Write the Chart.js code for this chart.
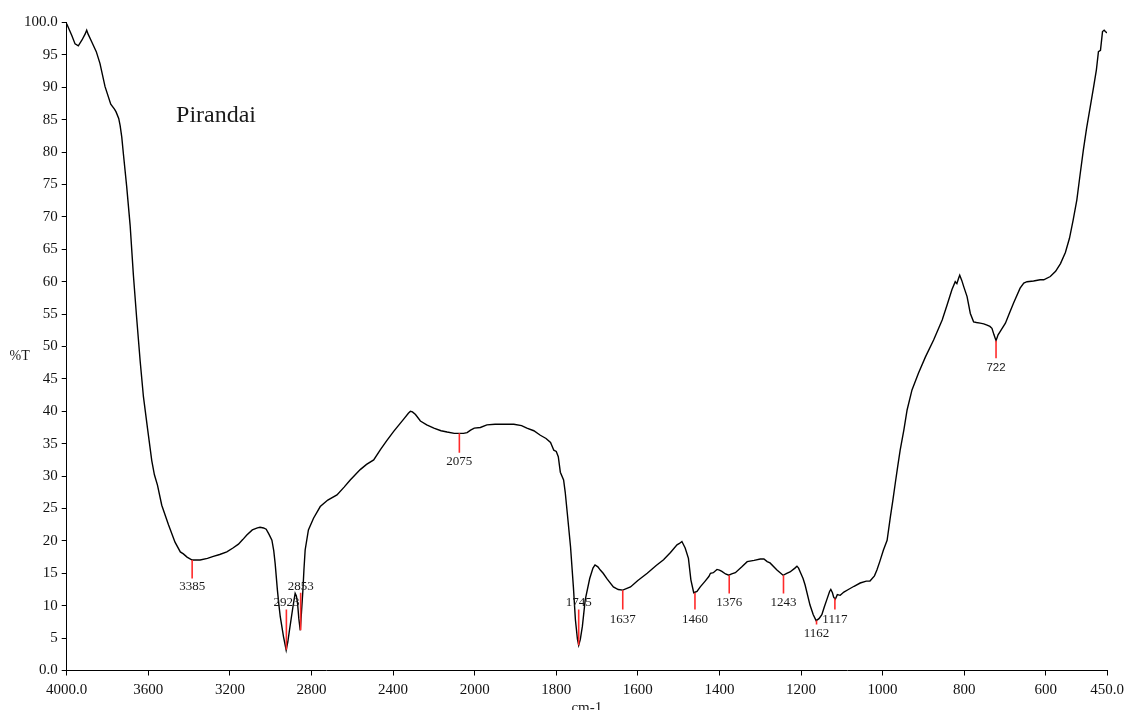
<!DOCTYPE html>
<html>
<head>
<meta charset="utf-8">
<script src="https://cdn.jsdelivr.net/npm/chart.js@4/dist/chart.umd.min.js"></script>
<style>
html,body{margin:0;padding:0;background:#fff;}
#wrap{width:1126px;height:710px;position:relative;}
</style>
</head>
<body>
<div id="wrap"><canvas id="c"></canvas></div>
<script>
// ---- Data ----
const wavenumbers = [
4000,3975,3959,3943,3925,3910,3902,3895,3877,3855,3837,3812,3784,3765,3758,3745,3738,3730,3722,3706,
3689,3673,3657,3640,3624,3604,3583,3570,3555,3534,3501,3469,3443,3428,3410,3385,3346,3310,3281,3250,
3215,3185,3158,3137,3117,3090,3065,3052,3035,3022,3008,2994,2985,2978,2967,2960,2953,2937,2924,2916,
2908,2891,2880,2874,2868,2862,2855,2849,2842,2837,2831,2815,2790,2757,2720,2675,2640,2610,2561,2530,
2495,2462,2430,2397,2348,2325,2315,2305,2290,2266,2235,2200,2165,2135,2100,2078,2055,2037,2020,2002,
1986,1970,1950,1929,1904,1885,1872,1855,1839,1825,1814,1806,1800,1795,1790,1782,1778,1773,1765,1758,
1753,1748,1745,1741,1736,1729,1718,1710,1705,1698,1692,1685,1675,1660,1648,1637,1618,1600,1577,1555,
1537,1520,1504,1498,1492,1484,1476,1470,1463,1455,1447,1435,1426,1422,1415,1406,1400,1394,1385,1377,
1370,1361,1345,1332,1315,1300,1291,1283,1276,1259,1244,1235,1227,1215,1210,1206,1202,1195,1190,1178,
1170,1163,1156,1149,1143,1137,1130,1127,1123,1120,1116,1111,1104,1095,1084,1070,1055,1040,1031,1020,
1014,1007,998,989,981,975,969,963,957,948,940,928,912,895,875,854,842,830,822,818,
814,811,806,801,793,785,777,770,761,752,744,737,732,727,722,717,712,699,690,679,
663,654,646,630,614,605,589,576,564,552,542,533,524,516,508,500,491,483,476,471,
466,461,457,454,450
];
const transmittance = [
99.8,98.0,96.7,96.4,97.3,98.2,98.8,98.2,97.0,95.5,93.7,90.1,87.4,86.6,86.2,85.2,84.1,82.3,79.7,74.7,
68.7,61.0,54.4,47.8,42.3,37.4,32.4,30.2,28.6,25.5,22.5,19.8,18.3,18.0,17.5,17.05,17.05,17.3,17.6,17.9,
18.3,18.9,19.5,20.2,20.9,21.7,22.0,22.1,22.0,21.8,21.0,20.1,18.5,16.5,12.4,10.2,8.3,5.2,3.15,4.4,
6.2,9.8,11.9,11.5,10.3,8.0,6.2,9.0,12.4,15.5,18.6,21.7,23.5,25.3,26.3,27.1,28.3,29.4,31.0,31.8,
32.5,34.1,35.5,36.9,38.8,39.7,40.0,39.9,39.5,38.5,37.9,37.4,37.0,36.8,36.6,36.6,36.6,36.7,37.1,37.4,
37.5,37.9,38.0,38.0,38.0,37.8,37.4,37.0,36.3,35.8,35.2,34.0,33.8,33.0,30.6,29.4,27.5,24.3,19.1,12.9,
7.8,4.8,3.9,4.8,6.8,10.9,14.2,15.8,16.3,16.0,15.5,15.0,14.1,12.9,12.5,12.4,12.9,13.9,15.0,16.2,
17.1,18.2,19.4,19.6,19.9,18.9,17.3,14.0,12.0,12.2,12.9,13.8,14.5,15.0,15.1,15.6,15.5,15.3,14.9,14.7,
14.9,15.1,16.0,16.8,17.0,17.2,17.2,16.8,16.6,15.5,14.7,15.0,15.2,15.8,16.1,15.8,15.2,14.2,13.2,10.1,
8.6,7.7,8.0,8.6,9.8,10.9,12.2,12.5,12.0,11.3,11.0,11.7,11.6,12.1,12.5,13.0,13.5,13.8,13.8,14.6,
15.5,16.8,18.6,20.1,23.7,26.2,28.9,31.5,34.0,37.1,40.2,43.3,45.9,48.4,51.0,54.1,56.4,58.8,60.0,59.7,
60.5,61.0,60.2,59.2,57.7,55.1,53.8,53.7,53.6,53.5,53.3,53.1,52.8,51.8,50.9,51.8,52.3,53.6,55.0,56.7,
59.0,59.8,60.0,60.1,60.3,60.3,60.8,61.6,62.8,64.5,66.7,69.5,72.6,76.5,80.3,83.7,87.0,90.0,92.7,95.5,
95.7,98.6,98.8,98.6,98.4
];
const xTickValues = [4000,3600,3200,2800,2400,2000,1800,1600,1400,1200,1000,800,600,450];
const xTickLabels = ['4000.0','3600','3200','2800','2400','2000','1800','1600','1400','1200','1000','800','600','450.0'];
const yTickValues = [0,5,10,15,20,25,30,35,40,45,50,55,60,65,70,75,80,85,90,95,100];
const yTickLabels = ['0.0','5','10','15','20','25','30','35','40','45','50','55','60','65','70','75','80','85','90','95','100.0'];

const peakWavenumbers = [3385,2923,2853,2075,1745,1637,1460,1376,1243,1162,1117,722];
const peakLabels      = ['3385','2923','2853','2075','1745','1637','1460','1376','1243','1162','1117','722'];
const peakLineFrom    = [17.05,3.2,6.2,36.6,3.9,12.4,12.0,14.7,14.7,7.7,11.1,50.9];
const peakLineTo      = [14.2,9.4,12.0,33.6,9.4,9.4,9.4,11.9,11.9,7.1,9.4,48.2];
const peakLabelLevel  = [13.0,10.5,13.0,32.3,10.5,7.9,7.9,10.5,10.5,5.7,7.9,46.7];

const sampleName = 'Pirandai';
const yAxisTitle = '%T';
const xAxisTitle = 'cm-1';

// ---- Split-scale FTIR axis (4000-2000 compressed 2x, as in the instrument printout) ----
const LinearScale = Chart.registry.getScale('linear');
const HIGH = 4000, SPLIT = 2000, LOW = 450;
function ftirUnits(v){ return v >= SPLIT ? (HIGH - v) / 2 : (HIGH - SPLIT) / 2 + (SPLIT - v); }
const TOTAL_UNITS = ftirUnits(LOW);
class FtirScale extends LinearScale {
  getPixelForValue(v){ return this.getPixelForDecimal(ftirUnits(v) / TOTAL_UNITS); }
  getValueForPixel(p){
    const u = this.getDecimalForPixel(p) * TOTAL_UNITS, h = (HIGH - SPLIT) / 2;
    return u <= h ? HIGH - 2 * u : SPLIT - (u - h);
  }
}
FtirScale.id = 'ftir';
FtirScale.defaults = Object.assign({}, LinearScale.defaults);
Chart.register(FtirScale);

const SERIF = '"Liberation Serif", "Times New Roman", serif';

const markerSets = peakWavenumbers.map((w, i) => ({
  data: [{x: w, y: peakLineFrom[i]}, {x: w, y: peakLineTo[i]}],
  borderColor: '#ff2a2a', borderWidth: 1.6, pointRadius: 0, order: 0
}));

const textPlugin = {
  id: 'ftirText',
  afterDraw(chart){
    const ctx = chart.ctx, xs = chart.scales.x, ys = chart.scales.y, ca = chart.chartArea;
    ctx.save();
    ctx.fillStyle = '#1a1a1a';
    ctx.textAlign = 'center';
    ctx.textBaseline = 'middle';
    peakWavenumbers.forEach((w, i) => {
      ctx.font = (w < 1000 ? '11.5px "Liberation Sans", Arial, sans-serif' : '13px ' + SERIF);
      ctx.fillText(peakLabels[i], xs.getPixelForValue(w), ys.getPixelForValue(peakLabelLevel[i]));
    });
    // sample name
    ctx.font = '24px ' + SERIF;
    ctx.textAlign = 'left';
    ctx.textBaseline = 'alphabetic';
    ctx.fillText(sampleName, xs.getPixelForValue(3464), ys.getPixelForValue(84.7));
    // axis titles
    ctx.font = '14px ' + SERIF;
    ctx.textAlign = 'center';
    ctx.textBaseline = 'middle';
    ctx.fillText(yAxisTitle, ca.left - 47, ys.getPixelForValue(48.5));
    ctx.font = '15px ' + SERIF;
    ctx.textBaseline = 'alphabetic';
    ctx.fillText(xAxisTitle, (ca.left + ca.right) / 2, chart.height + 1.5);
    ctx.restore();
  }
};

new Chart(document.getElementById('c'), {
  type: 'line',
  data: {
    datasets: [
      ...markerSets,
      {
        data: wavenumbers.map((w, i) => ({x: w, y: transmittance[i]})),
        borderColor: '#000', borderWidth: 1.4, pointRadius: 0, tension: 0, order: 1
      }
    ]
  },
  options: {
    responsive: true, maintainAspectRatio: false, animation: false, devicePixelRatio: 1,
    layout: {padding: {top: 22.5, right: 19, left: 0, bottom: 0}},
    plugins: {legend: {display: false}, tooltip: {enabled: false}},
    elements: {point: {radius: 0}},
    scales: {
      x: {
        type: 'ftir', min: LOW, max: HIGH,
        afterBuildTicks: s => { s.ticks = xTickValues.map(v => ({value: v})); },
        afterFit: s => { s.height = 39.5; s.paddingLeft = 0; s.paddingRight = 0; },
        grid: {drawOnChartArea: false, drawTicks: true, tickLength: 5, color: '#000', lineWidth: 1},
        border: {display: true, color: '#000', width: 1},
        ticks: {autoSkip: false, maxRotation: 0, minRotation: 0, padding: 6, color: '#111',
                font: {family: SERIF, size: 15}, callback: (v, i) => xTickLabels[i]}
      },
      y: {
        type: 'linear', min: 0, max: 100,
        afterBuildTicks: s => { s.ticks = yTickValues.map(v => ({value: v})); },
        afterFit: s => { s.width = 66.7; s.paddingTop = 0; s.paddingBottom = 0; },
        grid: {drawOnChartArea: false, drawTicks: true, tickLength: 5, color: '#000', lineWidth: 1},
        border: {display: true, color: '#000', width: 1},
        ticks: {autoSkip: false, padding: 4, color: '#111',
                font: {family: SERIF, size: 15}, callback: (v, i) => yTickLabels[i]}
      }
    }
  },
  plugins: [textPlugin]
});
</script>
</body>
</html>
